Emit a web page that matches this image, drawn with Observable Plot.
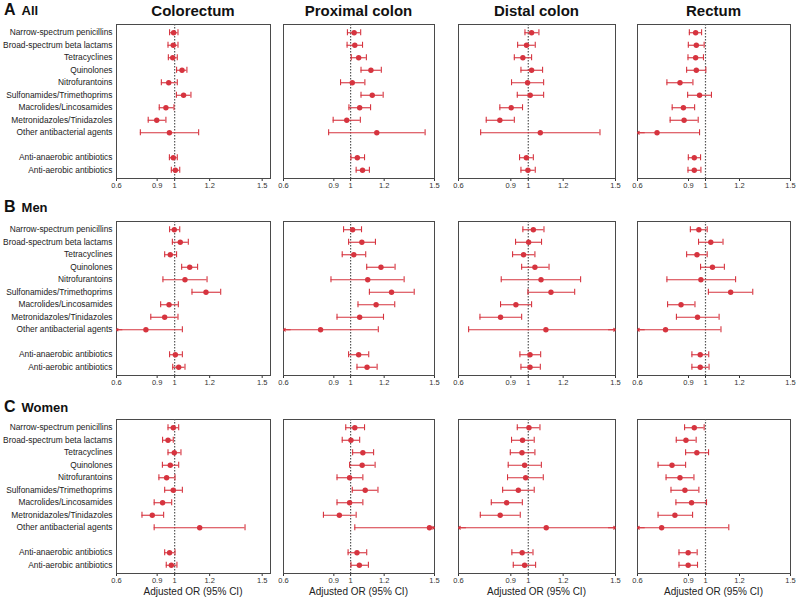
<!DOCTYPE html>
<html><head><meta charset="utf-8">
<script src="https://cdn.jsdelivr.net/npm/d3@7"></script>
<script src="https://cdn.jsdelivr.net/npm/@observablehq/plot@0.6"></script>
<style>
body{margin:0;background:#fff;}
#chart{position:relative;width:799px;height:602px;overflow:hidden;font-family:"Liberation Sans",Arial,Helvetica,sans-serif;color:#111;background:#fff;}
.abs{position:absolute;white-space:nowrap;}
.coltitle{font-weight:bold;font-size:15px;line-height:18px;text-align:center;top:2px;}
.rowtitle{font-weight:bold;line-height:18px;left:4px;}
.rowtitle .letter{font-size:16px;}
.rowtitle .name{font-size:13px;margin-left:6px;}
.xlabel{font-size:10px;line-height:12px;text-align:center;top:586px;color:#222;}
</style></head><body><div id="chart"></div>
<script>
// ---------- labels ----------
const rowNames = [["A", "All"], ["B", "Men"], ["C", "Women"]];
const siteNames = ["Colorectum", "Proximal colon", "Distal colon", "Rectum"];
const drugClasses = ["Narrow-spectrum penicillins", "Broad-spectrum beta lactams", "Tetracyclines", "Quinolones", "Nitrofurantoins", "Sulfonamides/Trimethoprims", "Macrolides/Lincosamides", "Metronidazoles/Tinidazoles", "Other antibacterial agents"];
const spectrumGroups = ["Anti-anaerobic antibiotics", "Anti-aerobic antibiotics"];
const xTicks = [0.6, 0.9, 1, 1.2, 1.5];
const xAxisTitle = "Adjusted OR (95% CI)";

// ---------- data: [OR, lower 95% CI, upper 95% CI] ----------
const allColorectum = [[0.994,0.971,1.019],[0.992,0.962,1.019],[0.989,0.964,1.015],[1.042,1.011,1.070],[0.966,0.924,1.015],[1.051,1.010,1.093],[0.950,0.912,0.996],[0.897,0.834,0.950],[0.970,0.776,1.137],[0.992,0.970,1.015],[1.004,0.981,1.029]];
const allProximal = [[1.021,0.981,1.060],[1.025,0.979,1.071],[1.048,1.004,1.094],[1.121,1.062,1.183],[1.010,0.940,1.085],[1.129,1.062,1.194],[1.054,0.990,1.119],[0.977,0.896,1.058],[1.156,0.869,1.444],[1.040,1.002,1.083],[1.071,1.033,1.112]];
const allDistal = [[1.019,0.981,1.061],[0.990,0.939,1.040],[0.969,0.920,1.019],[1.019,0.958,1.082],[0.996,0.904,1.088],[1.011,0.937,1.088],[0.902,0.837,0.967],[0.837,0.759,0.920],[1.069,0.727,1.411],[0.989,0.950,1.029],[0.998,0.958,1.040]];
const allRectum = [[0.942,0.905,0.977],[0.946,0.899,0.992],[0.942,0.897,0.988],[0.946,0.889,1.002],[0.850,0.773,0.926],[0.965,0.895,1.035],[0.870,0.804,0.936],[0.874,0.792,0.957],[0.715,0.55,0.965],[0.934,0.899,0.971],[0.934,0.897,0.973]];

const menColorectum = [[0.998,0.971,1.029],[1.032,0.987,1.078],[0.975,0.943,1.011],[1.086,1.040,1.131],[1.059,0.933,1.185],[1.179,1.099,1.263],[0.968,0.920,1.021],[0.943,0.853,1.019],[0.817,0.55,1.044],[1.004,0.971,1.044],[1.023,0.989,1.059]];
const menProximal = [[1.012,0.958,1.065],[1.067,0.988,1.148],[1.019,0.950,1.090],[1.181,1.096,1.265],[1.102,0.883,1.319],[1.244,1.112,1.379],[1.152,1.044,1.263],[1.054,0.919,1.196],[0.821,0.55,1.165],[1.048,0.988,1.108],[1.098,1.038,1.158]];
const menDistal = [[1.029,0.969,1.090],[1.002,0.927,1.076],[0.973,0.910,1.038],[1.038,0.962,1.119],[1.073,0.845,1.300],[1.130,0.998,1.266],[0.929,0.841,1.019],[0.841,0.723,0.962],[1.101,0.658,1.65],[1.010,0.952,1.071],[1.010,0.958,1.069]];
const menRectum = [[0.961,0.911,1.010],[1.031,0.959,1.103],[0.950,0.889,1.010],[1.041,0.971,1.111],[0.973,0.773,1.177],[1.148,1.017,1.278],[0.856,0.777,0.938],[0.953,0.829,1.080],[0.765,0.55,1.091],[0.969,0.920,1.019],[0.969,0.920,1.021]];

const womenColorectum = [[0.992,0.962,1.023],[0.962,0.931,0.992],[0.998,0.962,1.036],[0.975,0.930,1.023],[0.954,0.910,1.002],[0.992,0.943,1.044],[0.931,0.878,0.983],[0.864,0.788,0.937],[1.143,0.878,1.402],[0.971,0.943,1.002],[0.981,0.952,1.013]];
const womenProximal = [[1.025,0.971,1.083],[1.002,0.950,1.054],[1.073,1.012,1.137],[1.069,0.994,1.146],[0.994,0.919,1.073],[1.087,1.010,1.163],[0.994,0.919,1.073],[0.933,0.838,1.033],[1.47,1.025,1.65],[1.038,0.985,1.096],[1.052,1.002,1.106]];
const womenDistal = [[1.004,0.937,1.067],[0.967,0.904,1.034],[0.964,0.897,1.038],[0.979,0.885,1.075],[0.985,0.881,1.086],[0.943,0.853,1.034],[0.876,0.788,0.966],[0.839,0.725,0.954],[1.103,0.55,1.65],[0.965,0.906,1.027],[0.979,0.914,1.042]];
const womenRectum = [[0.934,0.877,0.992],[0.885,0.828,0.945],[0.949,0.883,1.018],[0.803,0.721,0.883],[0.850,0.768,0.932],[0.879,0.797,0.961],[0.918,0.826,1.006],[0.820,0.721,0.924],[0.742,0.55,1.137],[0.898,0.844,0.951],[0.898,0.844,0.953]];

const panels = [
  [allColorectum, allProximal, allDistal, allRectum],
  [menColorectum, menProximal, menDistal, menRectum],
  [womenColorectum, womenProximal, womenDistal, womenRectum]
];

// ---------- layout & style ----------
const colLayout = [{left: 116, width: 154}, {left: 283, width: 151}, {left: 458, width: 157}, {left: 637, width: 153}];
const rowTops = [24, 221, 419];
const frameH = 154;
const red = "#d6343f";
const rowOrder = [...drugClasses, " ", ...spectrumGroups];
const rowLabelsFor = [...drugClasses, ...spectrumGroups];
const chart = document.getElementById("chart");

function makePanel(values, ri, ci) {
  const rows = values.map(([or, lo, hi], i) => ({label: rowLabelsFor[i], or, lo, hi}));
  const {left, width: fw} = colLayout[ci];
  const ml = ci === 0 ? left : 10, mr = 10, mt = 2, mb = 24;
  const xmin = 0.6, xmax = 1.5;
  const xScale = ci === 0
    ? {type: "linear", domain: [0.6, 0.9, 1.5], range: [ml, ml + fw * 0.264, ml + fw * 0.946]}
    : {type: "linear", domain: [xmin, xmax]};
  const marks = [
    Plot.frame({stroke: "#4a4a4a", strokeWidth: 1}),
    Plot.ruleX([1], {stroke: "#555", strokeWidth: 1.2, strokeDasharray: "1.4,1.6"}),
    Plot.ruleY(rows, {y: "label", x1: d => Math.max(d.lo, xmin), x2: d => Math.min(d.hi, xmax), stroke: red, strokeWidth: 1.1}),
    Plot.tickX(rows.filter(d => d.lo >= xmin), {x: "lo", y: "label", stroke: red, strokeWidth: 1.1}),
    Plot.tickX(rows.filter(d => d.hi <= xmax), {x: "hi", y: "label", stroke: red, strokeWidth: 1.1}),
    Plot.arrow(rows.filter(d => d.lo < xmin), {x1: () => xmin + 0.04, x2: () => xmin, y1: "label", y2: "label", stroke: red, strokeWidth: 1.1, headLength: 5, headAngle: 80}),
    Plot.arrow(rows.filter(d => d.hi > xmax), {x1: () => xmax - 0.04, x2: () => xmax, y1: "label", y2: "label", stroke: red, strokeWidth: 1.1, headLength: 5, headAngle: 80}),
    Plot.dot(rows, {x: "or", y: "label", r: 2.7, fill: red})
  ];
  if (ci === 0) {
    marks.push(Plot.text(rows, {x: () => xmin, y: "label", text: "label", textAnchor: "end", dx: -4, fontSize: 8.4, fill: "#222"}));
  }
  const svg = Plot.plot({
    width: ml + fw + mr,
    height: mt + frameH + mb,
    marginLeft: ml, marginRight: mr, marginTop: mt, marginBottom: mb,
    x: {...xScale, ticks: xTicks, tickFormat: d => String(d), tickSize: 3, tickPadding: 1.5, label: null},
    y: {type: "band", domain: rowOrder, paddingInner: 0.52, paddingOuter: 0.42, round: false, axis: null},
    style: {fontSize: "7.5px", fontFamily: "'Liberation Sans', Arial, sans-serif", color: "#333", background: "transparent", overflow: "visible"},
    marks
  });
  svg.style.position = "absolute";
  svg.style.left = (left - ml) + "px";
  svg.style.top = (rowTops[ri] - mt) + "px";
  chart.appendChild(svg);
}

panels.forEach((row, ri) => row.forEach((vals, ci) => makePanel(vals, ri, ci)));

// column titles
siteNames.forEach((name, ci) => {
  const d = document.createElement("div");
  d.className = "abs coltitle";
  d.style.left = colLayout[ci].left + "px";
  d.style.width = colLayout[ci].width + "px";
  d.textContent = name;
  chart.appendChild(d);
});
// row titles
const rowTitleTops = [1, 198, 398];
rowNames.forEach(([letter, name], ri) => {
  const d = document.createElement("div");
  d.className = "abs rowtitle";
  d.style.top = rowTitleTops[ri] + "px";
  const a = document.createElement("span"); a.className = "letter"; a.textContent = letter;
  const b = document.createElement("span"); b.className = "name"; b.textContent = name;
  d.appendChild(a); d.appendChild(b);
  chart.appendChild(d);
});
// x axis titles (bottom row)
colLayout.forEach(c => {
  const d = document.createElement("div");
  d.className = "abs xlabel";
  d.style.left = c.left + "px";
  d.style.width = c.width + "px";
  d.textContent = xAxisTitle;
  chart.appendChild(d);
});
</script></body></html>
